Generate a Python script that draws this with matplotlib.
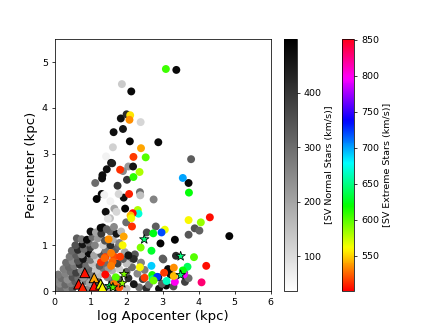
import matplotlib
matplotlib.use("Agg")
import matplotlib.pyplot as plt

# 通常の星 (グレー) 上側のばらけた点
upper_x = [3.38, 1.87, 2.13, 2.39, 1.84, 2.00, 1.90, 1.64, 2.09, 2.88, 1.62, 1.43, 1.57, 1.60,
           3.79, 2.05, 2.18, 1.45, 3.72, 1.33, 1.32, 1.13, 2.01, 2.37, 2.38, 1.31, 1.17, 2.75,
           1.92, 1.55, 1.66, 1.96, 1.42, 1.54, 1.99, 3.89, 4.02, 3.72, 4.85, 2.81, 2.56, 1.34,
           3.34, 2.94, 3.00, 3.37, 2.23, 2.11, 1.78, 1.72, 1.48, 1.38, 1.75, 1.90, 3.02, 3.60]
upper_y = [4.83, 4.52, 4.36, 3.69, 3.77, 3.86, 3.54, 3.47, 3.27, 3.25, 3.14, 2.94, 2.80, 2.79,
           2.88, 2.72, 2.72, 2.66, 2.36, 2.53, 2.46, 2.36, 2.43, 2.16, 2.09, 2.12, 2.01, 2.00,
           2.04, 1.96, 1.80, 1.80, 1.73, 1.59, 1.50, 1.37, 1.32, 1.23, 1.20, 1.41, 1.28, 1.39,
           1.12, 1.04, 0.71, 0.77, 0.80, 0.71, 2.12, 1.73, 1.58, 2.10, 2.30, 2.62, 0.69, 0.40]
upper_v = [480, 130, 480, 110, 470, 420, 460, 470, 490, 480, 120, 60, 470, 440,
           330, 220, 460, 470, 480, 470, 470, 300, 400, 300, 150, 480, 490, 260,
           470, 60, 200, 490, 470, 150, 300, 350, 320, 340, 490, 330, 360, 480,
           490, 490, 320, 420, 340, 320, 110, 110, 90, 60, 400, 250, 330, 300]

# 通常の星 左下の密集部分
core_x = [0.05, 0.20, 0.35, 0.50, 0.90, 1.45, 1.75, 2.00, 2.35, 2.55, 2.90, 3.10, 3.30,
          0.00, 0.15, 0.30, 0.45, 0.58, 0.85, 0.98, 1.22, 1.60, 2.20, 2.62, 2.98, 3.62,
          0.06, 0.20, 0.36, 0.50, 0.66, 0.80, 1.00, 1.25, 1.47, 1.78, 2.05, 2.45, 2.88, 3.22, 3.72,
          0.10, 0.30, 0.45, 0.60, 0.75, 0.95, 1.15, 1.35, 1.60, 2.00, 2.30, 3.15,
          0.25, 0.40, 0.55, 0.70, 0.88, 1.05, 1.25, 1.50, 1.80, 2.15, 2.50,
          0.32, 0.50, 0.65, 0.80, 1.00, 1.18, 1.40, 1.75, 2.00, 2.40,
          0.42, 0.60, 0.75, 0.95, 1.10, 1.30, 1.55, 1.90, 2.20,
          0.48, 0.65, 0.82, 1.00, 1.20, 1.42, 1.68, 1.95, 2.05,
          0.58, 0.78, 0.95, 1.12, 1.35, 1.55, 1.78,
          0.62, 0.75, 0.90, 1.05, 1.20, 1.40, 1.62, 1.80,
          1.00, 1.15, 1.30, 1.55, 1.72, 1.85,
          1.28, 1.45, 1.65]
core_y = [0.05, 0.04, 0.06, 0.05, 0.04, 0.05, 0.06, 0.05, 0.08, 0.06, 0.05, 0.12, 0.10,
          0.15, 0.16, 0.14, 0.17, 0.20, 0.22, 0.18, 0.20, 0.22, 0.15, 0.14, 0.16, 0.20,
          0.26, 0.28, 0.25, 0.30, 0.28, 0.30, 0.34, 0.36, 0.30, 0.25, 0.28, 0.26, 0.30, 0.36, 0.28,
          0.36, 0.38, 0.42, 0.40, 0.45, 0.48, 0.45, 0.50, 0.45, 0.42, 0.38, 0.48,
          0.48, 0.52, 0.55, 0.58, 0.56, 0.60, 0.55, 0.50, 0.48, 0.52, 0.46,
          0.62, 0.65, 0.66, 0.70, 0.68, 0.70, 0.62, 0.60, 0.60, 0.62,
          0.75, 0.78, 0.80, 0.82, 0.78, 0.80, 0.72, 0.70, 0.70,
          0.88, 0.90, 0.92, 0.95, 0.90, 0.88, 0.90, 0.85, 0.78,
          1.00, 1.02, 1.06, 1.00, 1.00, 1.00, 0.98,
          1.15, 1.13, 1.12, 1.18, 1.15, 1.10, 1.12, 1.05,
          1.30, 1.28, 1.25, 1.30, 1.25, 1.30,
          1.38, 1.35, 1.40]
core_v = [280, 300, 260, 320, 250, 200, 380, 150, 300, 420, 470, 480, 350,
          290, 250, 310, 270, 330, 280, 200, 350, 300, 460, 280, 330, 380,
          260, 300, 240, 350, 300, 220, 280, 160, 250, 350, 420, 380, 460, 470, 300,
          280, 260, 300, 380, 250, 320, 140, 280, 180, 320, 250, 480,
          270, 310, 280, 420, 300, 150, 330, 220, 120, 300, 270,
          300, 250, 350, 460, 280, 120, 300, 380, 150, 260,
          280, 330, 250, 480, 200, 350, 160, 330, 420,
          310, 420, 300, 380, 60, 280, 330, 200, 460,
          350, 460, 300, 260, 120, 420, 300,
          330, 280, 480, 300, 220, 350, 180, 260,
          470, 200, 400, 300, 460, 160,
          480, 320, 250]

# 極端な星 (カラー) 丸
ext_x = [3.09, 2.10, 2.08, 2.40, 2.19, 2.53, 1.82, 2.36, 2.19, 3.56, 3.73, 2.07,
         2.31, 2.33, 2.17, 2.11, 2.13, 3.72, 4.06, 4.31, 2.15, 3.06, 2.97, 2.74,
         1.50, 1.92, 1.89, 2.39, 2.69, 3.87, 1.41, 1.66, 1.82, 1.61, 1.29, 1.57, 1.39,
         2.37, 2.69, 3.31, 3.69, 4.21, 1.41, 1.70, 2.50, 2.71, 2.72, 2.85, 3.11,
         3.34, 3.59, 3.04, 3.31, 4.08, 1.57, 1.65, 1.80, 2.75, 3.56]
ext_y = [4.85, 3.84, 3.74, 3.12, 2.93, 2.92, 2.65, 2.60, 2.49, 2.47, 2.15, 2.12,
         1.77, 1.69, 1.70, 1.65, 1.59, 1.55, 1.50, 1.61, 1.41, 1.34, 1.28, 1.26,
         1.13, 1.19, 1.00, 0.95, 0.88, 0.74, 0.74, 0.75, 0.75, 0.64, 0.63, 0.83, 0.72,
         0.52, 0.55, 0.51, 0.53, 0.55, 0.36, 0.30, 0.29, 0.35, 0.26, 0.31, 0.22,
         0.20, 0.36, 0.40, 0.33, 0.19, 0.55, 0.15, 0.08, 0.23, 0.45]
ext_v = [605, 555, 535, 540, 515, 600, 512, 580, 610, 700, 620, 508,
         580, 670, 503, 545, 565, 560, 585, 505, 512, 565, 720, 625,
         535, 540, 560, 590, 630, 600, 515, 520, 515, 525, 512, 530, 525,
         560, 690, 535, 640, 505, 503, 600, 515, 615, 650, 725, 665,
         800, 795, 515, 545, 830, 530, 530, 520, 595, 620]

# 三角
tri_x = [0.84, 0.67, 1.10, 1.10, 0.78, 1.28, 1.33]
tri_y = [0.40, 0.15, 0.29, 0.11, 0.08, 0.15, 0.08]
tri_v = [506, 506, 540, 505, 510, 565, 560]

# 星印
star_x = [2.49, 3.50, 3.50, 1.93, 1.88, 1.52, 1.62]
star_y = [1.13, 0.76, 0.35, 0.37, 0.17, 0.11, 0.08]
star_v = [645, 648, 645, 590, 585, 640, 600]

fig = plt.figure(figsize=(6.4, 4.8))
ax = fig.add_subplot(111)

# 通常の星
sc_n = ax.scatter(upper_x + core_x, upper_y + core_y, c=upper_v + core_v,
                  cmap='gray_r', vmin=36, vmax=498, s=70, edgecolors='none')

# 極端な星
sc_e = ax.scatter(ext_x, ext_y, c=ext_v, cmap='hsv', vmin=501, vmax=851,
                  s=70, edgecolors='none')
ax.scatter(tri_x, tri_y, c=tri_v, cmap='hsv', vmin=501, vmax=851, marker='^',
           s=110, edgecolors='black', linewidths=1)
ax.scatter(star_x, star_y, c=star_v, cmap='hsv', vmin=501, vmax=851, marker='*',
           s=110, edgecolors='black', linewidths=0.8)

# カラーバー
cb_e = fig.colorbar(sc_e, ax=ax)
cb_e.set_label('[SV Extreme Stars (km/s)]')
cb_n = fig.colorbar(sc_n, ax=ax)
cb_n.set_label('[SV Normal Stars (km/s)]')

# ラベル
ax.set_xlabel('log Apocenter (kpc)', fontsize=14)
ax.set_ylabel('Pericenter (kpc)', fontsize=14)
ax.set_xlim(0, 6)
ax.set_ylim(0, 5.5)

fig.savefig('out.png', dpi=68.125)
